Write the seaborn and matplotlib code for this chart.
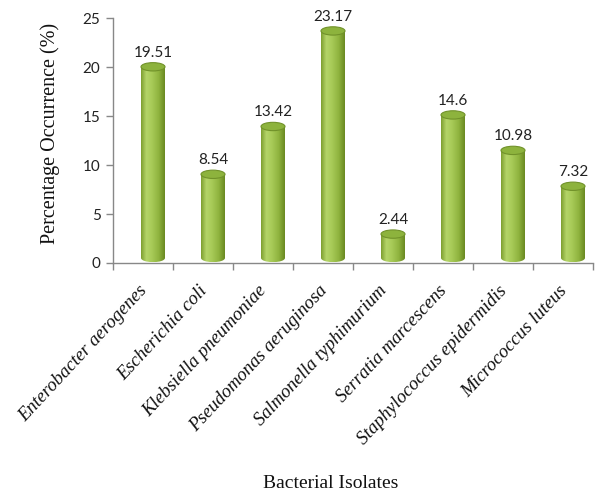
import numpy as np
import pandas as pd
import matplotlib
matplotlib.use("Agg")
import matplotlib.pyplot as plt
import matplotlib.transforms as mtransforms
from matplotlib.patches import Ellipse, Rectangle
from matplotlib.colors import LinearSegmentedColormap
import seaborn as sns

isolates = [
    "Enterobacter aerogenes",
    "Escherichia coli",
    "Klebsiella pneumoniae",
    "Pseudomonas aeruginosa",
    "Salmonella typhimurium",
    "Serratia marcescens",
    "Staphylococcus epidermidis",
    "Micrococcus luteus",
]
occurrence = [19.51, 8.54, 13.42, 23.17, 2.44, 14.6, 10.98, 7.32]
value_labels = ["19.51", "8.54", "13.42", "23.17", "2.44", "14.6", "10.98", "7.32"]

df = pd.DataFrame({"isolate": isolates, "occurrence": occurrence})

sns.set_theme(style="white")
plt.rcParams["font.family"] = ["Lato", "DejaVu Sans"]

fig = plt.figure(figsize=(5.95, 4.94), dpi=100)
ax = fig.add_axes([113 / 595, 1 - 263 / 494, 480 / 595, 245 / 494])

sns.barplot(data=df, x="isolate", y="occurrence", color="#9cc04a",
            width=0.4, ax=ax, saturation=1)

ax.set_xlim(-0.5, len(isolates) - 0.5)
ax.set_ylim(0, 25)
ax.set_yticks([0, 5, 10, 15, 20, 25])

# 3-D depth offset for the cylinders
depth = mtransforms.ScaledTranslation(0.10, 0.05, fig.dpi_scale_trans)
shifted = ax.transData + depth

cyl_cmap = LinearSegmentedColormap.from_list(
    "cyl", [(0.0, "#7e9f30"), (0.22, "#b4d468"), (0.45, "#a8cb58"),
            (0.75, "#8fb33e"), (1.0, "#6a8a22")])
grad = np.linspace(0, 1, 64).reshape(1, -1)
ell_h = 0.85

for patch, val, txt in zip(ax.patches, occurrence, value_labels):
    x0 = patch.get_x()
    w = patch.get_width()
    h = patch.get_height()
    xc = x0 + w / 2
    patch.set_visible(False)

    body = Rectangle((x0, 0), w, h, transform=shifted, facecolor="none",
                     edgecolor="none")
    ax.add_patch(body)
    im = ax.imshow(grad, cmap=cyl_cmap, aspect="auto",
                   extent=[x0, x0 + w, 0, h], transform=shifted, zorder=2)
    im.set_clip_path(body)

    bottom = Ellipse((xc, 0), w, ell_h, transform=shifted, facecolor="none",
                     edgecolor="none")
    ax.add_patch(bottom)
    im2 = ax.imshow(grad, cmap=cyl_cmap, aspect="auto",
                    extent=[x0, x0 + w, -ell_h / 2, 0], transform=shifted,
                    zorder=2)
    im2.set_clip_path(bottom)

    top = Ellipse((xc, h), w, ell_h, transform=shifted, facecolor="#8db33d",
                  edgecolor="#71922a", linewidth=0.8, zorder=3)
    ax.add_patch(top)

    ax.text(xc, h, txt, transform=shifted + mtransforms.ScaledTranslation(
        0, 0.07, fig.dpi_scale_trans), ha="center", va="bottom",
        fontsize=11, color="#222222", zorder=4)

ax.set_xlim(-0.5, len(isolates) - 0.5)
ax.set_ylim(0, 25)

# axes styling
for side in ["top", "right"]:
    ax.spines[side].set_visible(False)
for side in ["left", "bottom"]:
    ax.spines[side].set_color("#888888")
    ax.spines[side].set_linewidth(1.0)

ax.tick_params(axis="y", which="major", left=True, length=5, width=1,
               color="#888888", labelsize=11, labelcolor="#222222", pad=4)
ax.set_xticks(np.arange(len(isolates)))
ax.set_xticks(np.arange(len(isolates) + 1) - 0.5, minor=True)
ax.tick_params(axis="x", which="major", length=0, pad=14)
ax.tick_params(axis="x", which="minor", bottom=True, length=5, width=1,
               color="#888888")
ax.set_xticklabels(isolates, rotation=47, ha="right", rotation_mode="anchor",
                   family="Liberation Serif", style="italic", fontsize=13.5,
                   color="#111111")
label_shift = mtransforms.ScaledTranslation(-0.05, 0, fig.dpi_scale_trans)
for lab in ax.get_xticklabels():
    lab.set_transform(lab.get_transform() + label_shift)

ax.set_xlabel("Bacterial Isolates", family="Liberation Serif", fontsize=14,
              color="#111111")
ax.xaxis.set_label_coords(0.454, -0.865)
ax.set_ylabel("Percentage Occurrence (%)", family="Liberation Serif",
              fontsize=14.5, color="#111111")
ax.yaxis.set_label_coords(-0.11, 0.53)

fig.savefig("out.png", dpi=100, facecolor="white")
